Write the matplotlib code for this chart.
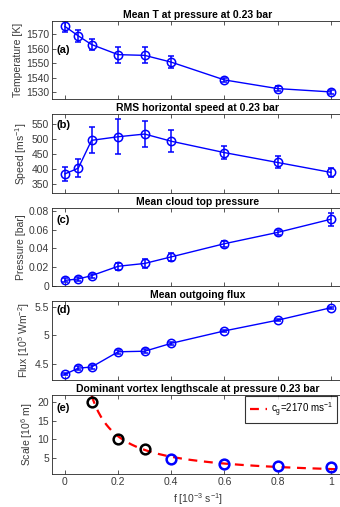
import numpy as np
import matplotlib
matplotlib.use('Agg')
import matplotlib.pyplot as plt

plt.rcParams['font.family'] = ['Liberation Sans', 'DejaVu Sans']
plt.rcParams['mathtext.fontset'] = 'custom'
plt.rcParams['mathtext.rm'] = 'Liberation Sans'

#--data--#
f = [0, 0.05, 0.1, 0.2, 0.3, 0.4, 0.6, 0.8, 1.0]

temp = [1575.5, 1569.0, 1563.0, 1556.0, 1555.5, 1550.8, 1538.5, 1532.5, 1530.2]
temp_err = [4.0, 4.0, 3.5, 5.5, 5.5, 4.0, 1.5, 1.5, 1.5]

speed = [383, 402, 495, 507, 516, 492, 454, 421, 388]
speed_err = [23, 30, 44, 58, 43, 36, 22, 20, 16]

cloud_p = [0.006, 0.0075, 0.011, 0.021, 0.024, 0.031, 0.045, 0.057, 0.071]
cloud_err = [0.002, 0.002, 0.002, 0.004, 0.005, 0.004, 0.003, 0.003, 0.007]

flux = [4.31, 4.42, 4.44, 4.71, 4.72, 4.86, 5.08, 5.27, 5.49]
flux_err = [0.02, 0.03, 0.04, 0.04, 0.04, 0.03, 0.02, 0.02, 0.02]

f_black = [0.1, 0.2, 0.3]
scale_black = [20.0, 10.0, 7.5]
f_blue = [0.4, 0.6, 0.8, 1.0]
scale_blue = [4.9, 3.6, 3.0, 2.6]

C_G = 2170  # m/s, from legend: scale = c_g / f

BLUE = (0, 0, 1)
GREY = '#3a3a3a'

#--layout (pixels from top)--#
W, H = 340, 507
fig = plt.figure(figsize=(W / 100, H / 100), dpi=100)
left, right = 51.7, 344.0
rows = [(20.7, 98.7), (114, 192.7), (208, 286), (301, 380), (395, 474)]
axes = []
for top, bot in rows:
    ax = fig.add_axes([left / W, 1 - bot / H, (right - left) / W, (bot - top) / H])
    axes.append(ax)

titles = ['Mean T at pressure at 0.23 bar',
          'RMS horizontal speed at 0.23 bar',
          'Mean cloud top pressure',
          'Mean outgoing flux',
          'Dominant vortex lengthscale at pressure 0.23 bar']
ylabels = ['Temperature [K]',
           r'Speed [ms$^{-1}$]',
           'Pressure [bar]',
           r'Flux [10$^5$ Wm$^{-2}$]',
           r'Scale [10$^6$ m]']
letters = ['(a)', '(b)', '(c)', '(d)', '(e)']
letter_y = [0.62, 0.86, 0.85, 0.88, 0.83]

series = [(temp, temp_err), (speed, speed_err), (cloud_p, cloud_err), (flux, flux_err)]
for ax, (y, e) in zip(axes[:4], series):
    ax.errorbar(f, y, yerr=e, color=BLUE, marker='o', markersize=6,
                markerfacecolor='none', markeredgewidth=1.1, linewidth=1.0,
                elinewidth=1.1, capsize=2, capthick=1.1)

#--panel (e)--#
ax = axes[4]
fc = np.linspace(0.1, 1.1, 200)
ax.plot(fc, C_G / (fc * 1e-3) / 1e6, '--', color='red', linewidth=1.6,
        dashes=(4, 3), label=r'c$_{\rm g}$=2170 ms$^{-1}$')
ax.plot(f_black, scale_black, 'o', color='black', markerfacecolor='none',
        markersize=7, markeredgewidth=1.8)
ax.plot(f_blue, scale_blue, 'o', color=BLUE, markerfacecolor='none',
        markersize=7, markeredgewidth=1.8)
leg = ax.legend(loc='upper right', bbox_to_anchor=(1 - 6 / (right - left), 1.0),
                fontsize=7, frameon=True, fancybox=False, borderaxespad=0.1,
                handlelength=1.8, handletextpad=0.4, borderpad=0.45)
leg.get_frame().set_edgecolor('black')
leg.get_frame().set_linewidth(0.8)

ylims = [(1525.5, 1579.5), (320, 583), (0, 0.083), (4.21, 5.61), (0.85, 21.8)]
yticks = [[1530, 1540, 1550, 1560, 1570],
          [350, 400, 450, 500, 550],
          [0, 0.02, 0.04, 0.06, 0.08],
          [4.5, 5, 5.5],
          [5, 10, 15, 20]]
yticklabels = [None, None, ['0', '0.02', '0.04', '0.06', '0.08'],
               ['4.5', '5', '5.5'], None]

for i, ax in enumerate(axes):
    ax.set_xlim(-0.05, 1.05)
    ax.set_ylim(*ylims[i])
    ax.set_yticks(yticks[i])
    if yticklabels[i] is not None:
        ax.set_yticklabels(yticklabels[i])
    ax.set_xticks([0, 0.2, 0.4, 0.6, 0.8, 1])
    ax.set_xticklabels(['0', '0.2', '0.4', '0.6', '0.8', '1'])
    ax.tick_params(direction='in', top=True, right=True, length=3, width=0.6,
                   labelsize=7.5, colors=GREY, pad=2)
    for s in ax.spines.values():
        s.set_color('#262626')
        s.set_linewidth(0.6)
    ax.set_title(titles[i], fontsize=7.5, fontweight='bold', pad=2)
    ax.set_ylabel(ylabels[i], fontsize=7.5, color=GREY, labelpad=2)
    ax.text(0.017, letter_y[i], letters[i], transform=ax.transAxes, fontsize=8,
            fontweight='bold', va='center', ha='left')
    if i < 4:
        ax.tick_params(labelbottom=False)

axes[4].set_xlabel(r'f [10$^{-3}$ s$^{-1}$]', fontsize=7.5, color=GREY, labelpad=3)

fig.savefig('out.png', dpi=100)
